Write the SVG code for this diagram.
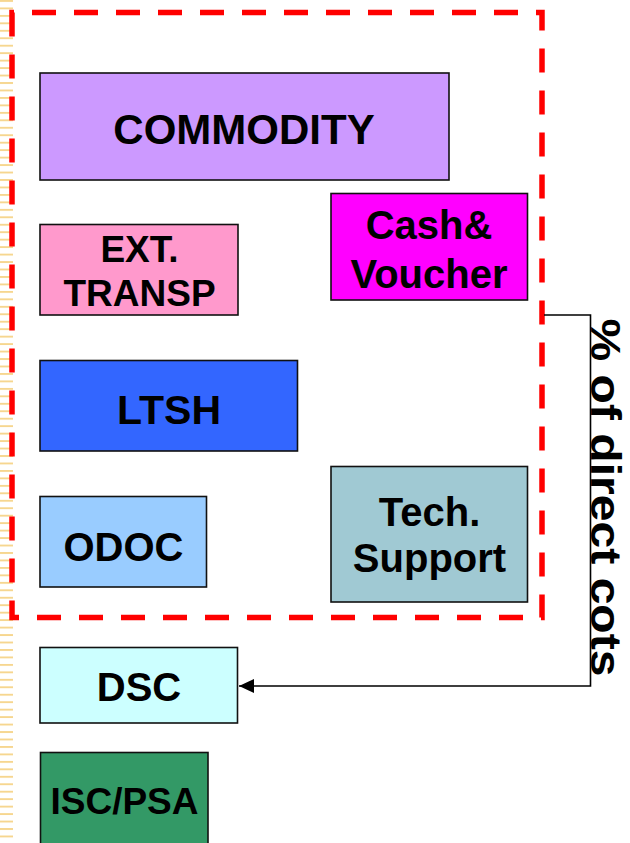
<svg xmlns="http://www.w3.org/2000/svg" width="630" height="843" viewBox="0 0 630 843">
  <style>
    .box { stroke: #111; stroke-width: 1.6; }
    .lbl { font-family: "Liberation Sans", Arial, sans-serif; font-weight: bold; fill: #000; text-anchor: middle; }
    .wire { fill: none; stroke: #000; stroke-width: 1.6; }
  </style>
  <defs>
    <pattern id="ruling" x="0" y="0" width="14" height="7.46" patternUnits="userSpaceOnUse">
      <rect x="0" y="0" width="13" height="1.9" fill="#F6D68F"/>
    </pattern>
    <marker id="head" markerWidth="16" markerHeight="14" refX="15" refY="7" orient="auto" markerUnits="userSpaceOnUse">
      <path d="M0,0 L15,7 L0,14 Z" fill="#000"/>
    </marker>
  </defs>

  <rect width="630" height="843" fill="#fff"/>
  <!-- ruled strip along the left margin -->
  <rect x="0" y="0" width="14" height="843" fill="url(#ruling)"/>

  <!-- dashed grouping frame -->
  <path d="M12,12.5 V617.5 H542 V12.5 Z" fill="none" stroke="#FF0000" stroke-width="5.5" stroke-dasharray="24 18"/>

  <g id="connectors">
    <path class="wire" d="M544,315 H590.5 V686 H239" marker-end="url(#head)"/>
  </g>

  <g id="commodity">
    <rect class="box" x="40" y="73" width="409" height="107" fill="#CC99FF"/>
    <text class="lbl" x="244" y="143.5" font-size="42">COMMODITY</text>
  </g>

  <g id="ext-transp">
    <rect class="box" x="40" y="224.5" width="198" height="90.5" fill="#FF99CC"/>
    <text class="lbl" x="139.5" y="262" font-size="37">EXT.</text>
    <text class="lbl" x="139.5" y="306" font-size="37">TRANSP</text>
  </g>

  <g id="cash-voucher">
    <rect class="box" x="331" y="193.5" width="196.5" height="106.5" fill="#FF00FF"/>
    <text class="lbl" x="429" y="239" font-size="40">Cash&amp;</text>
    <text class="lbl" x="429" y="288" font-size="40">Voucher</text>
  </g>

  <g id="ltsh">
    <rect class="box" x="40" y="360.5" width="257.5" height="90.5" fill="#3366FF"/>
    <text class="lbl" x="169" y="423.5" font-size="41">LTSH</text>
  </g>

  <g id="odoc">
    <rect class="box" x="40" y="496.5" width="166.5" height="90.5" fill="#99CCFF"/>
    <text class="lbl" x="123.5" y="560.5" font-size="40">ODOC</text>
  </g>

  <g id="tech-support">
    <rect class="box" x="331" y="466.5" width="196.5" height="135.5" fill="#A0C9D3"/>
    <text class="lbl" x="429.5" y="526" font-size="40">Tech.</text>
    <text class="lbl" x="429.5" y="572" font-size="40">Support</text>
  </g>

  <g id="dsc">
    <rect class="box" x="40" y="647.5" width="197.5" height="75.5" fill="#CCFFFF"/>
    <text class="lbl" x="139" y="701" font-size="40">DSC</text>
  </g>

  <g id="isc-psa">
    <rect class="box" x="40.5" y="752.5" width="167.5" height="95" fill="#339966"/>
    <text class="lbl" x="124.5" y="813.5" font-size="37">ISC/PSA</text>
  </g>

  <g id="share-label">
    <text class="lbl" transform="translate(590.5,497.5) rotate(90)" x="0" y="0" font-size="42.5" textLength="358" lengthAdjust="spacingAndGlyphs">% of direct cots</text>
  </g>
</svg>
